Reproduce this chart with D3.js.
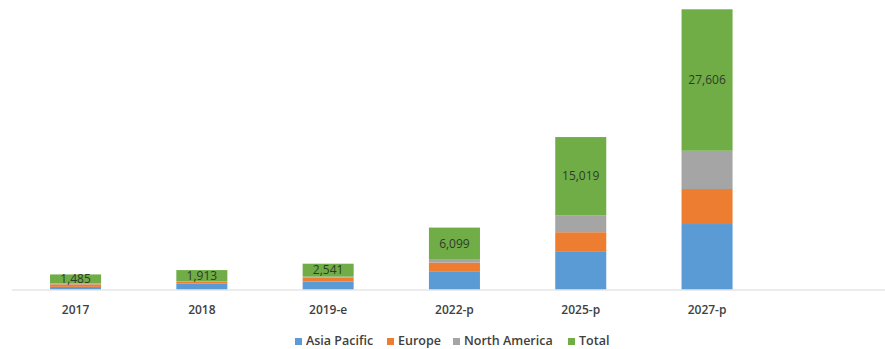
<!DOCTYPE html>
<html>
<head>
<meta charset="utf-8">
<script src="https://cdn.jsdelivr.net/npm/d3@7"></script>
<style>
  html, body { margin: 0; padding: 0; background: #ffffff; }
  svg { display: block; }
</style>
</head>
<body>
<svg id="chart" width="885" height="349"></svg>
<script>
// Market size by region (stacked); the top "Total" segment tops each bar out to the total
const categories = ["2017", "2018", "2019-e", "2022-p", "2025-p", "2027-p"];
const asiaPacific = [260, 600, 790, 1800, 3775, 6450];
const europe = [250, 140, 370, 850, 1870, 3450];
const northAmerica = [90, 60, 110, 350, 1675, 3770];
const totals = [1485, 1913, 2541, 6099, 15019, 27606];

const seriesNames = ["Asia Pacific", "Europe", "North America", "Total"];
const colors = ["#5b9bd5", "#ed7d31", "#a5a5a5", "#70ad47"];

const svg = d3.select("#chart");
const W = 885, H = 349;
const baseY = 289.5;
const font = "'Open Sans', 'Liberation Sans', Arial, sans-serif";

// rows for the stack: the last key is the remainder up to the stated total
const rows = categories.map((c, i) => ({
  cat: c,
  "Asia Pacific": asiaPacific[i],
  "Europe": europe[i],
  "North America": northAmerica[i],
  "Total": totals[i] - asiaPacific[i] - europe[i] - northAmerica[i],
  total: totals[i]
}));

const stacked = d3.stack().keys(seriesNames)(rows);

const x = d3.scaleBand()
  .domain(categories)
  .range([12.4, 770.2])
  .paddingInner(0.596)
  .paddingOuter(0.298);

const y = d3.scaleLinear()
  .domain([0, 28000])
  .range([baseY, baseY - 280.2 * 28000 / 27606]);

const color = d3.scaleOrdinal().domain(seriesNames).range(colors);

// bars
svg.append("g")
  .selectAll("g")
  .data(stacked)
  .join("g")
  .attr("fill", d => color(d.key))
  .selectAll("rect")
  .data(d => d)
  .join("rect")
  .attr("x", d => x(d.data.cat))
  .attr("width", x.bandwidth())
  .attr("y", d => y(d[1]))
  .attr("height", d => y(d[0]) - y(d[1]));

// category axis
const xAxis = svg.append("g")
  .attr("transform", `translate(0,${baseY})`)
  .call(d3.axisBottom(x).tickSize(0).tickPadding(16));
xAxis.select(".domain").remove();
xAxis.append("line")
  .attr("x1", 12).attr("x2", W)
  .attr("y1", 0.5).attr("y2", 0.5)
  .attr("stroke", "#d9d9d9")
  .attr("stroke-width", 1.2);
xAxis.selectAll(".tick text")
  .attr("font-family", font)
  .attr("font-size", "12px")
  .attr("font-weight", 600)
  .attr("fill", "#404040");

// total labels centred in the top segment
const topSeries = stacked[stacked.length - 1];
svg.append("g")
  .selectAll("text")
  .data(topSeries)
  .join("text")
  .attr("x", d => x(d.data.cat) + x.bandwidth() / 2)
  .attr("y", d => (y(d[0]) + y(d[1])) / 2)
  .attr("dy", "0.35em")
  .attr("text-anchor", "middle")
  .attr("font-family", font)
  .attr("font-size", "12px")
  .attr("fill", "#2f3b2a")
  .text(d => d3.format(",")(d.data.total));

// legend
const legendX = [295, 387, 453, 568];
const legend = svg.append("g")
  .selectAll("g")
  .data(seriesNames)
  .join("g")
  .attr("transform", (d, i) => `translate(${legendX[i]},340.5)`);
legend.append("rect")
  .attr("x", 0).attr("y", -2.5)
  .attr("width", 7).attr("height", 7)
  .attr("fill", d => color(d));
legend.append("text")
  .attr("x", 11)
  .attr("dy", "0.35em")
  .attr("font-family", font)
  .attr("font-size", "12.5px")
  .attr("font-weight", 600)
  .attr("fill", "#404040")
  .text(d => d);
</script>
</body>
</html>
